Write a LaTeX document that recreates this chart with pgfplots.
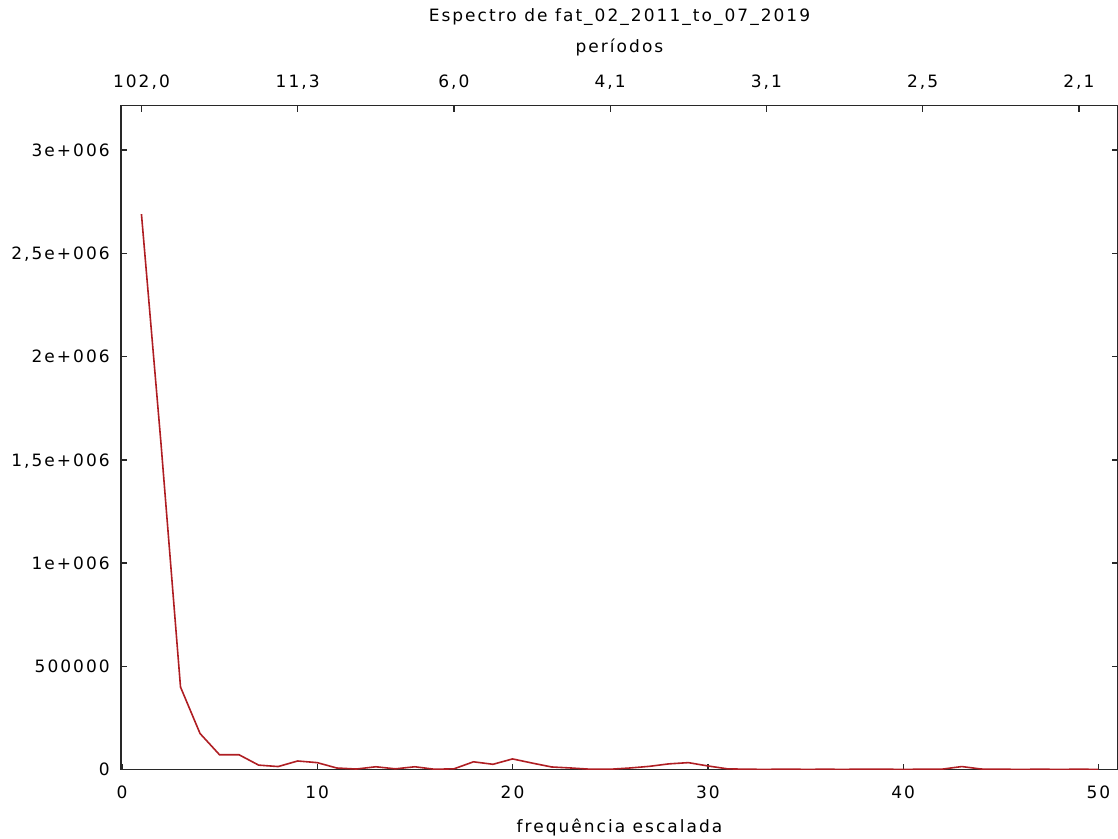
\documentclass[border=0pt]{standalone}
\usepackage{pgfplots}
\pgfplotsset{compat=1.18}
\usepackage{fontspec}
\setmainfont{DejaVu Sans}[LetterSpace=12]
\definecolor{gred}{RGB}{175,30,35}
\definecolor{axgray}{RGB}{40,40,40}
\pgfplotstableread{
k v
1 2690000
2 1580000
3 400000
4 175000
5 72000
6 72000
7 22000
8 15000
9 42000
10 34000
11 8000
12 3000
13 14000
14 4000
15 14000
16 2000
17 4000
18 38000
19 26000
20 52000
21 32000
22 13000
23 8000
24 2000
25 2000
26 8000
27 16000
28 28000
29 34000
30 18000
31 4000
32 2000
33 1500
34 2500
35 1500
36 2000
37 1500
38 2500
39 2000
40 1500
41 2000
42 2500
43 15000
44 3000
45 2000
46 1500
47 2000
48 1500
49 2000
50 1500
}\spec
\begin{document}
\fontsize{17pt}{20pt}\selectfont
\begin{tikzpicture}
\useasboundingbox (-121pt,-69pt) rectangle (997.5pt,770pt);
\pgfplotsset{
  common/.style={
    scale only axis, width=997.5pt, height=664.3pt,
    at={(0pt,0pt)}, anchor=south west,
    xmin=-0.05, xmax=51, ymin=0, ymax=3215000,
    tick align=inside, major tick length=6pt,
    axis line style={axgray, line width=1.3pt},
    tick style={axgray, line width=1.3pt},
    tick label style={inner sep=0pt},
    scaled y ticks=false, scaled x ticks=false,
  }
}
\begin{axis}[common,
  xtick pos=left,
  xtick={0,10,20,30,40,50}, xticklabels={0,10,20,30,40,50},
  xticklabel style={anchor=base, yshift=-29pt},
  ytick={0,500000,1000000,1500000,2000000,2500000,3000000},
  yticklabels={0,500000,1e+006,{1,5e+006},2e+006,{2,5e+006},3e+006},
  yticklabel style={anchor=base east, xshift=-11pt, yshift=-6.2pt},
  ytick pos=both, yticklabel pos=left,
  title={Espectro de fat\_02\_2011\_to\_07\_2019},
  title style={at={(axis description cs:0.5,1)}, anchor=base, yshift=78pt, inner sep=0pt},
  xlabel={frequência escalada},
  xlabel style={at={(axis description cs:0.5,0)}, anchor=base, yshift=-63pt, inner sep=0pt},
]
\addplot[gred, line width=1.6pt] table[x=k, y=v] {\spec};
\end{axis}
\begin{axis}[common,
  axis x line*=top, axis y line=none,
  axis line style={-},
  xtick={1,9,17,25,33,41,49},
  xticklabels={{102,0},{11,3},{6,0},{4,1},{3,1},{2,5},{2,1}},
  xticklabel style={anchor=base, yshift=18.5pt},
  xlabel={períodos},
  xlabel style={at={(axis description cs:0.5,1)}, anchor=base, yshift=53pt, inner sep=0pt},
]
\addplot[draw=none] coordinates {(1,0)};
\end{axis}
\end{tikzpicture}
\end{document}
